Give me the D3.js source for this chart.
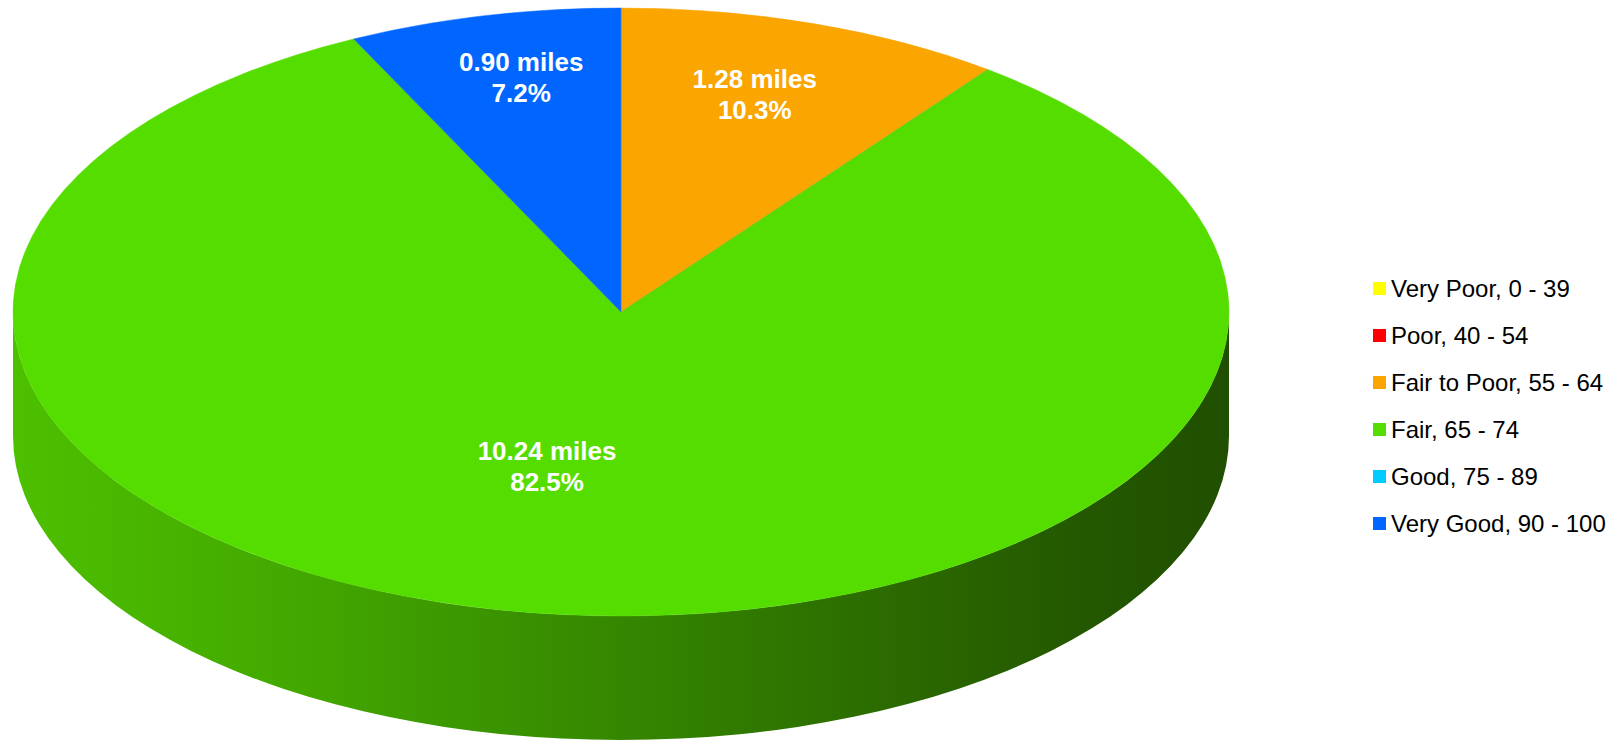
<!DOCTYPE html>
<html>
<head>
<meta charset="utf-8">
<script src="https://cdn.jsdelivr.net/npm/d3@7"></script>
<style>
    body { margin: 0; background: #fff; }
    svg { display: block; }
</style>
</head>
<body>
<svg id="chart" width="1616" height="744"></svg>
<script>
// data
let categories = ["Very Poor, 0 - 39", "Poor, 40 - 54", "Fair to Poor, 55 - 64", "Fair, 65 - 74", "Good, 75 - 89", "Very Good, 90 - 100"];
let miles = [0, 0, 1.28, 10.24, 0, 0.90];
let percents = [0, 0, 10.3, 82.5, 0, 7.2];
let colors = ["#ffff00", "#ff0000", "#faa500", "#55dd00", "#00ccff", "#0066ff"];

let svg = d3.select("#chart");

// ellipse of the top face
let cx = 621, cy = 312, rx = 608, ry = 304, depth = 124;
let total = d3.sum(miles);

let xScale = d3.scaleLinear().domain([-1, 1]).range([cx - rx, cx + rx]);
let yScale = d3.scaleLinear().domain([-1, 1]).range([cy - ry, cy + ry]);

// angle measured clockwise from 12 o'clock
function pt(a, k = 1) {
    return [xScale(k * Math.sin(a)), yScale(-k * Math.cos(a))];
}

let pie = d3.pie().sort(null).value(d => d.value);
let arcs = pie(miles.map((v, i) => ({ value: v, pct: percents[i], name: categories[i], color: colors[i] })))
    .filter(d => d.value > 0);

// side gradient (darker to the right)
let defs = svg.append("defs");
let grad = defs.append("linearGradient")
    .attr("id", "side")
    .attr("gradientUnits", "userSpaceOnUse")
    .attr("x1", cx - rx).attr("x2", cx + rx)
    .attr("y1", 0).attr("y2", 0);
[[0, "#4dc000"], [0.25, "#42a600"], [0.45, "#378d00"], [0.6, "#307a00"],
 [0.75, "#2a6700"], [0.88, "#245800"], [1, "#204f00"]].forEach(s => {
    grad.append("stop").attr("offset", s[0]).attr("stop-color", s[1]);
});

// front side wall: from 90deg to 270deg through the bottom
let right = pt(Math.PI / 2), left = pt(3 * Math.PI / 2);
let sideD = `M ${right[0]} ${right[1]} L ${right[0]} ${right[1] + depth}`
    + ` A ${rx} ${ry} 0 0 1 ${left[0]} ${left[1] + depth}`
    + ` L ${left[0]} ${left[1]}`
    + ` A ${rx} ${ry} 0 0 0 ${right[0]} ${right[1]} Z`;
svg.append("path")
    .attr("d", sideD)
    .attr("fill", "url(#side)");

// top face slices
function slicePath(d) {
    let p0 = pt(d.startAngle), p1 = pt(d.endAngle);
    let large = (d.endAngle - d.startAngle) > Math.PI ? 1 : 0;
    return `M ${cx} ${cy} L ${p0[0]} ${p0[1]} A ${rx} ${ry} 0 ${large} 1 ${p1[0]} ${p1[1]} Z`;
}

svg.append("g")
    .selectAll("path")
    .data(arcs)
    .join("path")
    .attr("d", slicePath)
    .attr("fill", d => d.data.color)
    .attr("stroke", d => d.data.color)
    .attr("stroke-width", 0.5);

// thin grey seam where slices meet
svg.append("g")
    .selectAll("line")
    .data(arcs)
    .join("line")
    .attr("x1", cx).attr("y1", cy)
    .attr("x2", d => pt(d.startAngle)[0])
    .attr("y2", d => pt(d.startAngle)[1])
    .attr("stroke", "#9a9a7a")
    .attr("stroke-opacity", 0.35)
    .attr("stroke-width", 0.8);

// data labels
svg.append("g")
    .selectAll("text")
    .data(arcs)
    .join("text")
    .attr("font-family", "'Liberation Sans', Arial, sans-serif")
    .attr("font-weight", "bold")
    .attr("font-size", 26)
    .attr("fill", "#fff")
    .attr("text-anchor", "middle")
    .each(function(d) {
        let frac = d.value / total;
        let big = frac > 0.5;
        let mid = (d.startAngle + d.endAngle) / 2;
        if (mid > Math.PI && !big) mid -= 2 * Math.PI; // keep small slices near 12 o'clock
        mid = big ? mid + 0.14 : mid * 0.92;
        // thinner slices push their label a bit further out
        let k = big ? 0.52 : 0.79 - 1.3 * (frac - 0.072);
        let p = pt(mid, k);
        let t = d3.select(this);
        t.append("tspan").attr("x", p[0]).attr("y", p[1] - 6)
            .text(d.value.toFixed(2) + " miles");
        t.append("tspan").attr("x", p[0]).attr("y", p[1] + 25)
            .text(d.data.pct.toFixed(1) + "%");
    });

// legend
let legendY = d3.scalePoint().domain(categories).range([289, 524]);
let legend = svg.append("g")
    .selectAll("g")
    .data(categories)
    .join("g")
    .attr("transform", d => `translate(1373, ${legendY(d)})`);
legend.append("rect")
    .attr("x", 0).attr("y", -7)
    .attr("width", 13).attr("height", 13)
    .attr("fill", (d, i) => colors[i]);
legend.append("text")
    .attr("x", 18).attr("y", 8)
    .attr("font-family", "'Liberation Sans', Arial, sans-serif")
    .attr("font-size", 24)
    .attr("fill", "#000")
    .text(d => d);
</script>
</body>
</html>
